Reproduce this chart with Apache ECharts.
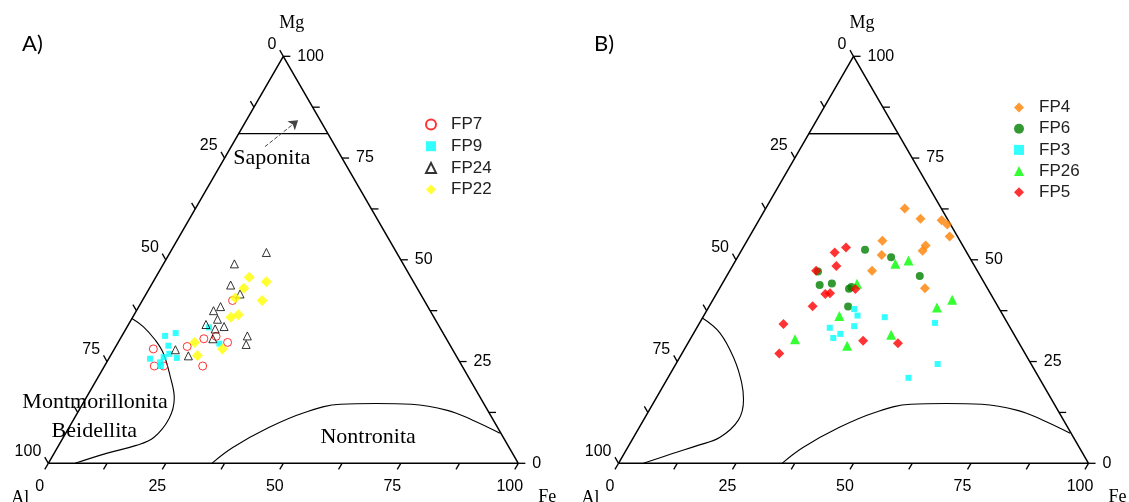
<!DOCTYPE html>
<html><head><meta charset="utf-8">
<script src="https://cdn.jsdelivr.net/npm/echarts@6/dist/echarts.min.js"></script>
<style>html,body{margin:0;padding:0;background:#fff}#c{width:1129px;height:502px}</style>
</head><body><div id="c"></div>
<script>
// Ternary points given as [Fe, Mg] in % (Al = 100 - Fe - Mg)
const FP7  = [[8.3,28.1],[10.6,23.9],[12.6,23.9],[15.2,28.7],[17.8,30.6],[20.1,31.2],[23.3,29.7],[20.9,23.9],[19.2,40.0]];
const FP9  = [[9.2,31.3],[11.1,32.0],[11.1,28.9],[8.8,25.7],[11.4,24.8],[11.5,26.1],[12.3,26.9],[14.4,25.9],[12.0,23.9],[17.5,33.4],[21.7,29.4]];
const FP24 = [[20.5,51.8],[15.1,49.0],[16.9,43.8],[20.0,41.6],[16.4,37.5],[17.4,38.5],[18.3,35.4],[16.5,34.1],[19.0,33.0],[20.6,33.6],[26.7,31.3],[27.5,29.2],[13.1,27.9],[16.6,26.4],[19.7,30.6]];
const FP22 = [[19.9,45.7],[24.1,44.6],[20.1,43.0],[19.5,40.6],[25.5,40.0],[20.9,35.9],[22.2,36.5],[16.3,29.7],[18.5,26.5],[23.0,28.1]];

const FP4  = [[29.6,62.6],[34.2,60.1],[38.9,59.7],[40.6,58.7],[42.6,55.7],[38.6,53.5],[38.6,52.2],[28.8,54.7],[30.4,51.2],[30.3,47.3],[43.7,43.0]];
const FP6  = [[26.2,52.5],[32.7,50.6],[41.1,46.0],[18.9,47.1],[20.9,43.8],[23.3,44.2],[27.6,42.9],[27.9,43.3],[29.6,38.5]];
const FP3  = [[31.2,37.9],[32.7,36.3],[38.7,35.9],[28.3,33.3],[33.3,33.7],[31.3,31.8],[30.3,30.8],[50.1,34.5],[55.7,24.4],[51.2,21.0]];
const FP26 = [[34.4,49.0],[36.8,49.8],[28.7,44.1],[28.9,36.2],[48.6,38.3],[50.9,40.2],[22.3,30.5],[34.2,28.9],[42.2,31.6]];
const FP5  = [[21.9,53.0],[20.1,51.8],[22.1,48.5],[18.4,47.3],[23.2,41.6],[24.1,41.8],[29.0,42.8],[22.0,38.6],[18.0,34.2],[20.7,27.0],[37.0,30.1],[44.7,29.5]];

// Field boundaries, [Fe, Mg]
const frame = [[0,0],[100,0],[0,100],[0,0]];
const saponiteLine = [[0,81],[19,81]];
const saponiteArrow = [[7.2,77.8],[11.0,84.3]];
const montmorilloniteA = [[0,35.6],[3.4,33.6],[7.6,30.3],[10.9,27.1],[15.3,21.3],[18.8,16.0],[20.2,11.0],[19.3,6.4],[16.5,4.4],[11.3,2.5],[5.7,0]];
const montmorilloniteB = [[0,35.7],[5.6,32.0],[12.0,25.4],[16.3,19.8],[18.8,15.6],[20.2,10.6],[18.4,6.4],[14.7,4.4],[10.3,2.4],[5.3,0]];
const nontronite = [[34.8,0],[37.3,3.9],[42.5,8.8],[48.3,12.5],[54.9,14.5],[62.4,14.7],[70.0,14.5],[78.4,13.0],[85.0,10.6],[92.4,7.4]];

const tickValues = [0,12.5,25,37.5,50,62.5,75,87.5,100];
const tickLabels = [0,25,50,75,100];
const cornerNames = ['Al','Fe','Mg'];
const cornerPos = [[0,0],[100,0],[0,100]];
const regionNames = ['Saponita','Montmorillonita','Beidellita','Nontronita'];
const regionPos = [[10.1,74.9],[2.4,15.1],[5.8,8.0],[64.8,6.5]];

const S3 = Math.sqrt(3) / 2;
const toXY = p => [p[0] + p[1] / 2, p[1] * S3];

function scatter(name, gi, data, symbol, size, color, border) {
  return {
    name, type: 'scatter', xAxisIndex: gi, yAxisIndex: gi, clip: false,
    symbol, symbolSize: size, data: data.map(toXY), z: 5,
    itemStyle: border ? {color: 'rgba(255,255,255,0)', borderColor: border, borderWidth: 1}
                      : {color: color, borderWidth: 0},
    emphasis: {disabled: true}
  };
}
function polyline(gi, pts, extra) {
  return Object.assign({
    type: 'line', xAxisIndex: gi, yAxisIndex: gi, data: pts.map(toXY),
    symbol: 'none', clip: false, silent: true, z: 2,
    lineStyle: {color: '#000', width: 1.1}
  }, extra || {});
}
function axisSeries(gi) {
  return {
    type: 'custom', xAxisIndex: gi, yAxisIndex: gi, clip: false, silent: true, z: 3,
    data: tickValues.map(v => [v, 0]),
    renderItem(params, api) {
      const v = api.value(0);
      const t = 1.5;
      const items = [];
      const seg = (a, b) => {
        const p = api.coord(toXY(a)), q = api.coord(toXY(b));
        items.push({type: 'line', shape: {x1: p[0], y1: p[1], x2: q[0], y2: q[1]},
          style: {stroke: '#000', lineWidth: 1.3}});
      };
      const txt = (a, dx, dy, s, align) => {
        const p = api.coord(toXY(a));
        items.push({type: 'text', x: p[0] + dx, y: p[1] + dy,
          style: {text: s, fontSize: 16, fontFamily: 'Liberation Sans', fill: '#000',
                  align: align, verticalAlign: 'middle'}});
      };
      seg([v, 0], [v, -t]);                       // Fe axis (bottom)
      seg([100 - v, v], [100 - v + t, v]);        // Mg axis (right)
      seg([0, 100 - v], [-t, 100 - v + t]);       // Al axis (left)
      if (tickLabels.includes(v)) {
        txt([v, 0], -8.5, 23, String(v), 'center');
        txt([100 - v, v], 14, 0, String(v), 'left');
        txt([0, 100 - v], -7, -12, String(v), 'right');
      }
      return {type: 'group', children: items};
    }
  };
}
function textSeries(gi, names, pos, size, offsets) {
  return {
    type: 'custom', xAxisIndex: gi, yAxisIndex: gi, clip: false, silent: true, z: 4,
    data: pos.map(toXY),
    renderItem(params, api) {
      const p = api.coord([api.value(0), api.value(1)]);
      const o = offsets ? offsets[params.dataIndex] : [0, 0];
      return {type: 'text', x: p[0] + o[0], y: p[1] + o[1],
        style: {text: names[params.dataIndex], fontSize: size, fontFamily: 'Liberation Serif',
                fill: '#000', align: 'center', verticalAlign: 'middle'}};
    }
  };
}
const cornerOffsets = [[-28, 35], [29, 34], [8.5, -33]];

function panelLines(gi, mont) {
  return [
    polyline(gi, frame, {lineStyle: {color: '#000', width: 1.5}}),
    polyline(gi, saponiteLine),
    polyline(gi, mont, {smooth: 0.4}),
    polyline(gi, nontronite, {smooth: 0.4}),
    axisSeries(gi),
    textSeries(gi, cornerNames, cornerPos, 18, cornerOffsets)
  ];
}

const chart = echarts.init(document.getElementById('c'), null, {renderer: 'canvas'});
chart.setOption({
  animation: false,
  backgroundColor: '#fff',
  grid: [
    {left: 48.3, top: 56.3, width: 470, height: 407},
    {left: 618.5, top: 56.3, width: 470, height: 407}
  ],
  xAxis: [
    {gridIndex: 0, type: 'value', min: 0, max: 100, show: false},
    {gridIndex: 1, type: 'value', min: 0, max: 100, show: false}
  ],
  yAxis: [
    {gridIndex: 0, type: 'value', min: 0, max: 100 * S3, show: false},
    {gridIndex: 1, type: 'value', min: 0, max: 100 * S3, show: false}
  ],
  legend: [
    {data: ['FP7','FP9','FP24','FP22'], orient: 'vertical', left: 420, top: 111,
     itemWidth: 10, itemHeight: 10, itemGap: 4.7, selectedMode: false,
     textStyle: {fontSize: 17, fontFamily: 'Liberation Sans', color: '#222', padding: [0, 0, 0, 10]}},
    {data: ['FP4','FP6','FP3','FP26','FP5'], orient: 'vertical', left: 1009, top: 94,
     itemWidth: 10, itemHeight: 10, itemGap: 4.2, selectedMode: false,
     textStyle: {fontSize: 17, fontFamily: 'Liberation Sans', color: '#222', padding: [0, 0, 0, 10]}}
  ],
  graphic: [
    {type: 'text', left: 22, top: 33, style: {text: 'A)', fontSize: 22, fontFamily: 'Lato', fill: '#000'}},
    {type: 'text', left: 594, top: 33, style: {text: 'B)', fontSize: 22, fontFamily: 'Lato', fill: '#000'}}
  ],
  series: [
    ...panelLines(0, montmorilloniteA),
    ...panelLines(1, montmorilloniteB),
    polyline(1, saponiteLine),
    textSeries(0, regionNames, regionPos, 22),
    {type: 'line', xAxisIndex: 0, yAxisIndex: 0, data: [], silent: true,
     markLine: {silent: true, symbol: ['none', 'arrow'], symbolSize: 9, animation: false,
       label: {show: false}, lineStyle: {type: 'dashed', color: '#444', width: 1},
       data: [[{coord: toXY(saponiteArrow[0])}, {coord: toXY(saponiteArrow[1])}]]}},
    scatter('FP7', 0, FP7, 'circle', 8, null, '#ff0000'),
    scatter('FP9', 0, FP9, 'rect', 6, '#00ffff'),
    scatter('FP24', 0, FP24, 'triangle', 8, null, '#000'),
    scatter('FP22', 0, FP22, 'diamond', 11, '#ffff00'),
    scatter('FP4', 1, FP4, 'diamond', 10, '#ff8000'),
    scatter('FP6', 1, FP6, 'circle', 8, '#007f00'),
    scatter('FP3', 1, FP3, 'rect', 6, '#00ffff'),
    scatter('FP26', 1, FP26, 'triangle', 10, '#00ff00'),
    scatter('FP5', 1, FP5, 'diamond', 10, '#ff0000')
  ]
});
</script>
</body></html>
